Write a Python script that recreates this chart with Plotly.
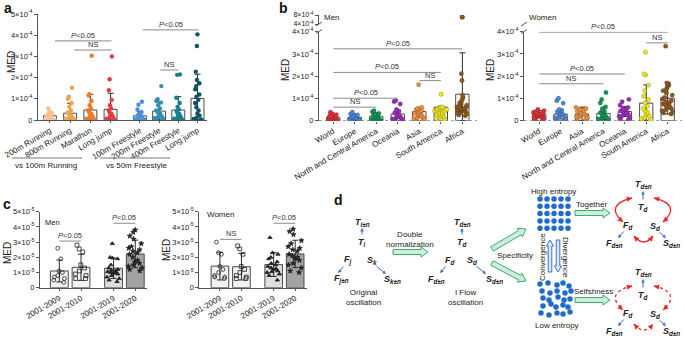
import numpy as np
import plotly.graph_objects as go

W, H = 685, 340
FONT = "Liberation Sans, Arial, Helvetica, sans-serif"
S4, S5 = 1e-4, 1e-5


def px(x):
    return x / W


def py(y):
    return 1 - y / H


# ---------------- Panel a (MED, units of 1e-4) ----------------
a_cats = ["200m Running", "800m Running", "Marathon", "Long jump",
          "100m Freestyle", "200m Freestyle", "400m Freestyle", "Long jump"]
a_pos = [0, 1, 2, 3, 4.45, 5.4, 6.35, 7.3]
a_colors = ["#F5C38E", "#F2A347", "#EC7C2A", "#E33B3F",
            "#4F8FDA", "#2F8FAF", "#17808F", "#0E5364"]
a_mean = [0.20, 0.32, 0.47, 0.50, 0.20, 0.42, 0.47, 1.02]
a_sd = [0.07, 0.47, 0.74, 0.76, 0.19, 0.44, 0.63, 1.14]
a_pts = [
    [0.55, 0.42, 0.33, 0.27, 0.22, 0.18, 0.15, 0.12, 0.1, 0.08, 0.06, 0.05, 0.04, 0.03, 0.02, 0.01, 0.0, 0.0],
    [1.52, 1.1, 1.0, 0.8, 0.62, 0.45, 0.35, 0.28, 0.2, 0.15, 0.12, 0.08, 0.05, 0.03, 0.01, 0.0],
    [3.03, 1.22, 1.15, 0.9, 0.7, 0.55, 0.45, 0.35, 0.28, 0.2, 0.15, 0.1, 0.06, 0.03, 0.01, 0.0],
    [3.0, 1.92, 1.4, 0.95, 0.7, 0.55, 0.45, 0.35, 0.28, 0.2, 0.14, 0.1, 0.06, 0.03, 0.0, 0.0],
    [0.86, 0.72, 0.5, 0.38, 0.3, 0.25, 0.2, 0.16, 0.13, 0.1, 0.08, 0.06, 0.04, 0.02, 0.01, 0.0],
    [1.6, 0.98, 0.9, 0.82, 0.7, 0.55, 0.45, 0.38, 0.3, 0.22, 0.17, 0.12, 0.08, 0.05, 0.02, 0.0],
    [2.15, 2.13, 1.05, 0.8, 0.62, 0.5, 0.42, 0.35, 0.28, 0.2, 0.14, 0.1, 0.06, 0.03, 0.0, 0.0],
    [4.04, 3.49, 2.28, 1.89, 1.73, 1.6, 1.45, 1.2, 1.1, 0.95, 0.8, 0.6, 0.45, 0.3, 0.2, 0.1, 0.05, 0.02, 0.0, 0.0],
]
a_ticks = [0, 1, 2, 3, 4, 5]

# ---------------- Panel b (MED, units of 1e-4) ----------------
bm_cats = ["World", "Europe", "North and Central America", "Oceania", "Asia", "South America", "Africa"]
bm_colors = ["#E0343C", "#4A88DB", "#14945A", "#9A2FB5", "#EE8E3C", "#EDE51E", "#8C5A1E"]
bm_mean = [0.15, 0.15, 0.20, 0.30, 0.41, 0.61, 1.19]
bm_sd = [0.15, 0.15, 0.15, 0.18, 0.19, 0.04, 1.86]
bm_pts = [
    [0.38, 0.32, 0.27, 0.23, 0.2, 0.18, 0.16, 0.14, 0.12, 0.1, 0.09, 0.07, 0.05, 0.04, 0.02, 0.01, 0.0, 0.0],
    [0.38, 0.3, 0.26, 0.22, 0.19, 0.16, 0.14, 0.12, 0.1, 0.08, 0.06, 0.04, 0.02, 0.01, 0.0],
    [0.45, 0.4, 0.33, 0.28, 0.24, 0.2, 0.17, 0.14, 0.11, 0.08, 0.06, 0.04, 0.02, 0.0, 0.0],
    [0.9, 0.86, 0.75, 0.5, 0.42, 0.35, 0.3, 0.25, 0.2, 0.16, 0.12, 0.08, 0.05, 0.02, 0.0],
    [1.62, 0.6, 0.55, 0.5, 0.46, 0.42, 0.38, 0.34, 0.3, 0.26, 0.22, 0.18, 0.14, 0.1, 0.06, 0.03, 0.0],
    [1.19, 0.62, 0.6, 0.57, 0.54, 0.5, 0.47, 0.44, 0.4, 0.37, 0.33, 0.3, 0.26, 0.22, 0.18, 0.14, 0.1, 0.06, 0.03, 0.0, 0.5, 0.42],
    [7.0, 7.15, 2.11, 1.81, 1.15, 1.05, 0.95, 0.88, 0.8, 0.75, 0.7, 0.65, 0.6, 0.56, 0.52, 0.48, 0.45, 0.42,
     0.38, 0.35, 0.3, 0.26, 0.22, 0.55, 0.62, 0.5],
]
bw_cats = ["World", "Europe", "Asia", "North and Central America", "Oceania", "South America", "Africa"]
bw_colors = ["#E0343C", "#4A88DB", "#EE8E3C", "#14945A", "#9A2FB5", "#EDE51E", "#8C5A1E"]
bw_mean = [0.30, 0.30, 0.30, 0.33, 0.41, 0.79, 1.01]
bw_sd = [0.15, 0.22, 0.31, 0.28, 0.22, 0.82, 0.71]
bw_pts = [
    [0.5, 0.45, 0.41, 0.38, 0.35, 0.32, 0.3, 0.28, 0.26, 0.24, 0.22, 0.2, 0.18, 0.15, 0.12, 0.08, 0.05],
    [1.01, 0.9, 0.79, 0.5, 0.45, 0.4, 0.34, 0.3, 0.26, 0.22, 0.18, 0.14, 0.1, 0.06, 0.03],
    [0.6, 0.55, 0.5, 0.46, 0.42, 0.37, 0.33, 0.29, 0.25, 0.21, 0.17, 0.13, 0.09, 0.05],
    [1.27, 0.95, 0.8, 0.62, 0.5, 0.42, 0.36, 0.3, 0.25, 0.2, 0.16, 0.12, 0.08, 0.05, 0.02, 0.0],
    [0.96, 0.85, 0.7, 0.6, 0.55, 0.5, 0.45, 0.4, 0.36, 0.32, 0.28, 0.24, 0.2, 0.15, 0.1, 0.05],
    [3.08, 2.1, 2.05, 1.6, 1.35, 1.1, 0.95, 0.8, 0.65, 0.55, 0.45, 0.38, 0.3, 0.22, 0.15, 0.1, 0.05, 0.02, 0.0],
    [3.35, 1.7, 1.65, 1.6, 1.55, 1.45, 1.35, 1.25, 1.15, 1.05, 0.98, 0.9, 0.85, 0.8, 0.75, 0.7, 0.65, 0.6,
     0.55, 0.5, 0.45, 0.4, 0.35, 0.3],
]
b_pos = [0, 1, 2, 3, 4, 5, 6]
b_ticks_low = [0, 1, 2, 3, 4]

# ---------------- Panel c (MED, units of 1e-5) ----------------
c_cats = ["2001-2009", "2001-2010", "2001-2019", "2001-2020"]
c_pos = [0, 1, 2.5, 3.5]
c_fills = ["#F2F2F2", "#F2F2F2", "#DEDEDE", "#A3A3A3"]
c_symbols = ["circle-open", "square-open", "triangle-up", "star"]
cm_mean = [1.10, 1.34, 1.28, 2.22]
cm_sd = [0.72, 0.86, 0.67, 0.91]
cm_pts = [
    [2.6, 1.9, 1.1, 1.0, 0.8, 0.7, 0.6, 0.5, 0.35],
    [2.8, 2.55, 2.35, 1.5, 1.3, 1.1, 0.9, 0.8, 0.6, 0.6],
    [2.9, 2.0, 1.95, 1.9, 1.5, 1.3, 1.2, 1.15, 1.1, 1.05, 1.0, 1.0, 0.95, 0.9, 0.8, 0.7, 0.6, 0.5, 0.4],
    [3.8, 3.65, 3.4, 3.2, 2.9, 2.7, 2.6, 2.5, 2.4, 2.3, 2.2, 2.0, 1.8, 1.7, 1.6, 1.5, 1.4, 1.3, 1.2, 1.1],
]
cw_mean = [1.42, 1.38, 1.52, 2.22]
cw_sd = [0.91, 0.87, 0.78, 0.90]
cw_pts = [
    [3.0, 2.3, 2.2, 1.4, 1.2, 1.0, 0.8, 0.7, 0.7, 0.6],
    [2.75, 2.55, 2.2, 1.4, 1.2, 1.0, 0.8, 0.7, 0.6, 0.6],
    [3.3, 2.3, 2.2, 2.0, 1.9, 1.7, 1.6, 1.5, 1.4, 1.3, 1.25, 1.2, 1.1, 1.05, 1.0, 0.9, 0.8, 0.5],
    [3.85, 3.7, 3.5, 3.1, 2.9, 2.7, 2.6, 2.5, 2.4, 2.2, 2.1, 2.0, 1.9, 1.8, 1.6, 1.5, 1.3, 1.1, 1.0],
]
c_ticks = [0, 1, 2, 3, 4, 5]

# ---------------- helpers ----------------
traces = []
shapes = []
annotations = []


def sup_labels(ticks, exp):
    return ["0" if t == 0 else f"{t}×10<sup>-{exp}</sup>" for t in ticks]


def bars(xpos, mean, sd, fills, xa, ya, scale, width):
    m = np.array(mean) * scale
    s = np.array(sd) * scale
    return go.Bar(x=xpos, y=m, width=width, xaxis=xa, yaxis=ya,
                  marker=dict(color=fills, line=dict(color="#4a4a4a", width=1)),
                  error_y=dict(type="data", symmetric=False, array=s, arrayminus=np.minimum(s, m),
                               color="#2b2b2b", thickness=1, width=3),
                  hoverinfo="skip", showlegend=False)


def dots(xpos, vals, color, xa, ya, scale, symbol="circle", size=4.4, lw=0.0, lc="rgba(0,0,0,0)", width=0.62):
    return go.Box(x0=xpos, y=np.array(vals) * scale, boxpoints="all", jitter=1.0, pointpos=0,
                  width=width, fillcolor="rgba(0,0,0,0)", line=dict(width=0, color="rgba(0,0,0,0)"),
                  marker=dict(color=color, size=size, symbol=symbol, line=dict(width=lw, color=lc)),
                  xaxis=xa, yaxis=ya, showlegend=False, hoveron="points")


def sig(xa, ya, x0, x1, yv, label):
    shapes.append(dict(type="line", xref=xa, yref=ya, x0=x0, x1=x1, y0=yv, y1=yv,
                       line=dict(color="#8a8a8a", width=1)))
    annotations.append(dict(xref=xa, yref=ya, x=(x0 + x1) / 2, y=yv, text=label, showarrow=False,
                            yanchor="bottom", yshift=-1, font=dict(size=7.5, color="#333")))


P05 = "<i>P</i>&lt;0.05"
NS = "NS"


def cat_axis(x0, x1, rng, tickvals, ticktext, anchor, showline=True):
    return dict(domain=[px(x0), px(x1)], range=rng, type="linear", tickvals=tickvals, ticktext=ticktext,
                tickangle=-30, tickfont=dict(size=8, color="#222"), showline=showline, linecolor="#555",
                linewidth=1, ticks="outside", ticklen=2, tickcolor="#555", showgrid=False, zeroline=False,
                anchor=anchor, fixedrange=True, automargin=False)


def val_axis(y0, y1, rng, tickvals, ticktext, anchor, size=7.5):
    return dict(domain=[py(y0), py(y1)], range=rng, tickvals=tickvals, ticktext=ticktext,
                tickfont=dict(size=size, color="#222"), showline=True, linecolor="#555", linewidth=1,
                ticks="outside", ticklen=3, tickcolor="#555", showgrid=False, zeroline=False,
                anchor=anchor, fixedrange=True, automargin=False)


# ---------------- Panel a traces ----------------
traces.append(bars(a_pos, a_mean, a_sd, "white", "x", "y", S4, 0.64))
for p, pts, c in zip(a_pos, a_pts, a_colors):
    traces.append(dots(p, pts, c, "x", "y", S4))
sig("x", "y", 0.25, 3.05, 3.73e-4, P05)
sig("x", "y", 1.2, 3.05, 3.3e-4, NS)
sig("x", "y", 4.6, 7.35, 4.25e-4, P05)
sig("x", "y", 5.45, 6.35, 2.36e-4, NS)

# ---------------- Panel b traces ----------------
traces.append(bars(b_pos, bm_mean, bm_sd, "white", "x2", "y2", S4, 0.62))
for p, pts, c in zip(b_pos, bm_pts, bm_colors):
    traces.append(dots(p, pts, c, "x2", "y2", S4, lw=0.5, lc="rgba(0,0,0,0.35)"))
traces.append(dots(b_pos[6], bm_pts[6], bm_colors[6], "x3", "y3", S4, lw=0.5, lc="rgba(0,0,0,0.35)"))
sig("x2", "y2", 0, 6, 3.23e-4, P05)
sig("x2", "y2", 0, 5, 2.17e-4, P05)
sig("x2", "y2", 4, 5, 1.80e-4, NS)
sig("x2", "y2", 0, 3, 1.01e-4, P05)
sig("x2", "y2", 0, 2, 0.61e-4, NS)

traces.append(bars(b_pos, bw_mean, bw_sd, "white", "x4", "y4", S4, 0.62))
for p, pts, c in zip(b_pos, bw_pts, bw_colors):
    traces.append(dots(p, pts, c, "x4", "y4", S4, lw=0.5, lc="rgba(0,0,0,0.35)"))
sig("x4", "y4", 0, 6, 3.98e-4, P05)
sig("x4", "y4", 5, 6, 3.50e-4, NS)
sig("x4", "y4", 0, 4, 2.10e-4, P05)
sig("x4", "y4", 0, 3, 1.66e-4, NS)

# ---------------- Panel c traces ----------------
traces.append(bars(c_pos, cm_mean, cm_sd, c_fills, "x6", "y6", S5, 0.82))
for p, pts, s in zip(c_pos, cm_pts, c_symbols):
    traces.append(dots(p, pts, "#222", "x6", "y6", S5, symbol=s, size=3.8, lw=0.8, lc="#222", width=0.8))
sig("x6", "y6", 0, 1, 3.07e-5, P05)
sig("x6", "y6", 2.5, 3.5, 4.24e-5, P05)

traces.append(bars(c_pos, cw_mean, cw_sd, c_fills, "x7", "y7", S5, 0.82))
for p, pts, s in zip(c_pos, cw_pts, c_symbols):
    traces.append(dots(p, pts, "#222", "x7", "y7", S5, symbol=s, size=3.8, lw=0.8, lc="#222", width=0.8))
sig("x7", "y7", 0, 1, 3.18e-5, NS)
sig("x7", "y7", 2.5, 3.5, 4.24e-5, P05)


# ---------------- canvas helpers (panel d, labels) ----------------
def ctext(x, y, text, size=8, color="#222", **kw):
    annotations.append(dict(xref="x8", yref="y8", x=x, y=y, text=text, showarrow=False,
                            font=dict(size=size, color=color, family=FONT), **kw))


def carrow(x0, y0, x1, y1, color="#3A6FC4", width=1.0, size=0.7):
    annotations.append(dict(xref="x8", yref="y8", axref="x8", ayref="y8", x=x1, y=y1, ax=x0, ay=y0,
                            text="", showarrow=True, arrowhead=2, arrowsize=size, arrowwidth=width,
                            arrowcolor=color, standoff=0, startstandoff=0))


def cline(x0, y0, x1, y1, color="#555", width=1, dash="solid"):
    shapes.append(dict(type="line", xref="x8", yref="y8", x0=x0, y0=y0, x1=x1, y1=y1,
                       line=dict(color=color, width=width, dash=dash)))


def block_arrow(x0, y0, x1, y1, bw, hw, hl, line, fill):
    L = np.hypot(x1 - x0, y1 - y0)
    ux, uy = (x1 - x0) / L, (y1 - y0) / L
    nx, ny = -uy, ux
    kx, ky = x0 + ux * (L - hl), y0 + uy * (L - hl)
    pts = [(x0 + nx * bw, y0 + ny * bw), (kx + nx * bw, ky + ny * bw), (kx + nx * hw, ky + ny * hw),
           (x1, y1), (kx - nx * hw, ky - ny * hw), (kx - nx * bw, ky - ny * bw), (x0 - nx * bw, y0 - ny * bw)]
    path = "M " + " L ".join(f"{x:.2f},{y:.2f}" for x, y in pts) + " Z"
    shapes.append(dict(type="path", xref="x8", yref="y8", path=path,
                       line=dict(color=line, width=1), fillcolor=fill))


def curve(p0, c, p1, dash):
    shapes.append(dict(type="path", xref="x8", yref="y8",
                       path=f"M {p0[0]},{p0[1]} Q {c[0]},{c[1]} {p1[0]},{p1[1]}",
                       line=dict(color="#E8262B", width=1.3, dash=dash)))
    for e in (p0, p1):
        d = np.array(c, float) - np.array(e, float)
        d = d / np.hypot(*d)
        carrow(e[0] + 5 * d[0], e[1] + 5 * d[1], e[0], e[1], color="#E8262B", width=1.3, size=0.8)


def var(sym, sub):
    return f"<b><i>{sym}</i></b><sub><b><i>{sub}</i></b></sub>"


# panel letters
ctext(8, 8, "<b>a</b>", size=14, color="#111")
ctext(283, 8, "<b>b</b>", size=14, color="#111")
ctext(7, 204, "<b>c</b>", size=14, color="#111")
ctext(338, 200, "<b>d</b>", size=14, color="#111")

# axis titles
for (x, y) in [(11, 62), (285, 70), (490, 70), (7, 253), (166, 250)]:
    ctext(x, y, "MED", size=10, textangle=-90)

ctext(322, 17, "Men", size=8, xanchor="left")
ctext(527, 17, "Women", size=8, xanchor="left")
ctext(43, 222, "Men", size=7.5, xanchor="left")
ctext(205, 214, "Women", size=8, xanchor="left")

# group brackets panel a
cline(12, 158, 82, 158, color="#777")
cline(100, 158, 170, 158, color="#777")
ctext(46, 165, "vs 100m Running", size=8)
ctext(136, 165, "vs 50m Freestyle", size=8)

# axis break marks in b
for xb in (319, 524):
    shapes.append(dict(type="rect", xref="x8", yref="y8", x0=xb - 1, x1=xb + 1, y0=25, y1=31,
                       line=dict(width=0), fillcolor="white"))
    cline(xb - 3, 33.5, xb + 3, 29.5, color="#555")
    cline(xb - 3, 26, xb + 3, 22, color="#555")

# ---------------- Panel d diagram ----------------
BLUE = "#3A6FC4"
GREEN_L, GREEN_F = "#3DAA72", "#CDEEDB"

# original oscillation
ctext(362, 222, var("T", "i±n"), size=9)
ctext(362, 242, var("T", "i"), size=9)
carrow(362, 236, 362, 228, BLUE)
ctext(348, 260, var("F", "j"), size=9)
ctext(341, 279, var("F", "j±n"), size=9)
carrow(345, 265, 338, 273, BLUE)
ctext(372, 260, var("S", "k"), size=9)
ctext(392, 279, var("S", "k±n"), size=9)
carrow(375, 265, 386, 274, BLUE)
ctext(363, 297, "Original<br>oscillation", size=8)

ctext(410, 239, "Double<br>normalization", size=8)
block_arrow(393, 252, 428, 252, 2.5, 5, 7, GREEN_L, GREEN_F)

# I flow oscillation
ctext(462, 222, var("T", "d±n"), size=9)
ctext(462, 242, var("T", "d"), size=9)
carrow(462, 236, 462, 228, BLUE)
ctext(450, 260, var("F", "d"), size=9)
ctext(436, 279, var("F", "d±n"), size=9)
carrow(447, 265, 440, 273, BLUE)
ctext(472, 260, var("S", "d"), size=9)
ctext(494, 279, var("S", "d±n"), size=9)
carrow(475, 265, 486, 274, BLUE)
ctext(465, 297, "I Flow<br>oscillation", size=8)

ctext(515, 255, "Specificity", size=8)
block_arrow(492, 249, 526, 229, 2.5, 5, 7, GREEN_L, GREEN_F)
block_arrow(492, 263, 526, 281, 2.5, 5, 7, GREEN_L, GREEN_F)

# entropy dots
grid_n = 5
gx = [540 + 7 * c for r in range(grid_n) for c in range(grid_n)]
gy = [199 + 7.3 * r for r in range(grid_n) for c in range(grid_n)]
low_x = [540, 548, 557, 563, 569, 542, 550, 557, 565, 571, 543, 549, 558, 564, 570,
         543, 551, 556, 563, 568, 541, 549, 557, 563, 570]
low_y = [284, 283, 285, 283, 286, 291, 293, 291, 293, 291, 298, 300, 297, 300, 299,
         306, 304, 307, 305, 307, 313, 315, 313, 314, 312]
traces.append(go.Scatter(x=gx + low_x, y=gy + low_y, mode="markers", xaxis="x8", yaxis="y8",
                         marker=dict(color="#1F6BC9", size=5.5), hoverinfo="skip", showlegend=False))
ctext(553, 191, "High entropy", size=8)
ctext(557, 325, "Low entropy", size=8)
block_arrow(550, 272, 550, 240, 1.8, 3.6, 6, "#3B6FD0", "#DCE6FA")
block_arrow(558, 240, 558, 272, 1.8, 3.6, 6, "#3B6FD0", "#DCE6FA")
ctext(542, 257, "Convergence", size=8, textangle=-90)
ctext(566, 257, "Divergence", size=8, textangle=90)

ctext(591, 204, "Together", size=8)
block_arrow(575, 213, 610, 213, 2.5, 5, 7, GREEN_L, GREEN_F)
ctext(593, 291, "Selfshness", size=8)
block_arrow(575, 300, 610, 300, 2.5, 5, 7, GREEN_L, GREEN_F)

for dy_, dash in [(0, "solid"), (88, "dot")]:
    ctext(643, 184 + dy_, var("T", "d±n"), size=9)
    ctext(643, 207 + dy_, var("T", "d"), size=9)
    carrow(643, 201 + dy_, 643, 191 + dy_, BLUE)
    ctext(628, 225 + dy_, var("F", "d"), size=9)
    ctext(614, 243 + dy_, var("F", "d±n"), size=9)
    carrow(625, 230 + dy_, 618, 238 + dy_, BLUE)
    ctext(655, 226 + dy_, var("S", "d"), size=9)
    ctext(671, 243 + dy_, var("S", "d±n"), size=9)
    carrow(658, 231 + dy_, 666, 238 + dy_, BLUE)
    curve((632, 198 + dy_), (604, 205 + dy_), (623, 222 + dy_), dash)
    curve((654, 198 + dy_), (682, 205 + dy_), (663, 222 + dy_), dash)
    curve((634, 236 + dy_), (644, 248 + dy_), (653, 236 + dy_), dash)

# ---------------- layout ----------------
a_rng = [-0.59, 7.77]
bm_rng = [-0.66, 6.68]
bw_rng = [-0.71, 6.67]
c_rng_m = [-0.89, 4.04]
c_rng_w = [-0.96, 4.05]

layout = dict(
    width=W, height=H, autosize=False, margin=dict(l=0, r=0, t=0, b=0, pad=0, autoexpand=False),
    paper_bgcolor="white", plot_bgcolor="rgba(0,0,0,0)",
    font=dict(family=FONT, color="#222"), showlegend=False,
    barmode="overlay", boxmode="overlay",
    xaxis=cat_axis(38, 207, a_rng, a_pos, a_cats, "y"),
    yaxis=val_axis(120, 14, [0, 5 * S4], [t * S4 for t in a_ticks], sup_labels(a_ticks, 4), "x"),
    xaxis2=cat_axis(319, 477, bm_rng, b_pos, bm_cats, "y2", showline=False),
    yaxis2=val_axis(120.7, 31.7, [0, 4 * S4], [t * S4 for t in b_ticks_low], sup_labels(b_ticks_low, 4), "x2"),
    xaxis3=dict(domain=[px(319), px(477)], range=bm_rng, visible=False, anchor="y3", fixedrange=True,
                automargin=False),
    yaxis3=val_axis(24, 15, [4 * S4, 8 * S4], [4 * S4, 8 * S4], sup_labels([4, 8], 4), "x3", size=7),
    xaxis4=cat_axis(524, 682, bw_rng, b_pos, bw_cats, "y4", showline=False),
    yaxis4=val_axis(120.7, 31.7, [0, 4 * S4], [t * S4 for t in b_ticks_low], sup_labels(b_ticks_low, 4), "x4"),
    xaxis5=dict(domain=[px(524), px(682)], range=bw_rng, visible=False, anchor="y5", fixedrange=True,
                automargin=False),
    yaxis5=val_axis(24, 15, [4 * S4, 6 * S4], [4 * S4, 6 * S4], sup_labels([4, 6], 4), "x5", size=7),
    xaxis6=cat_axis(40, 147, c_rng_m, c_pos, c_cats, "y6"),
    yaxis6=val_axis(287.7, 211.7, [0, 5 * S5], [t * S5 for t in c_ticks], sup_labels(c_ticks, 5), "x6"),
    xaxis7=cat_axis(199.3, 307, c_rng_w, c_pos, c_cats, "y7"),
    yaxis7=val_axis(287.7, 211.7, [0, 5 * S5], [t * S5 for t in c_ticks], sup_labels(c_ticks, 5), "x7"),
    xaxis8=dict(domain=[0, 1], range=[0, W], visible=False, anchor="y8", fixedrange=True, automargin=False),
    yaxis8=dict(domain=[0, 1], range=[H, 0], visible=False, anchor="x8", fixedrange=True, automargin=False),
)

# dotted baselines for panel b
for xa, ya, rng in [("x2", "y2", bm_rng), ("x4", "y4", bw_rng)]:
    shapes.append(dict(type="line", xref=xa, yref=ya, x0=rng[0], x1=rng[1], y0=0, y1=0,
                       line=dict(color="#666", width=1, dash="dot"), layer="below"))

layout["shapes"] = shapes
layout["annotations"] = annotations

fig = go.Figure(data=traces, layout=layout)
fig.write_html("out.html", config={"responsive": False, "displayModeBar": False},
               post_script="document.body.style.margin='0';document.body.style.padding='0';"
                           "document.body.style.overflow='hidden';")
